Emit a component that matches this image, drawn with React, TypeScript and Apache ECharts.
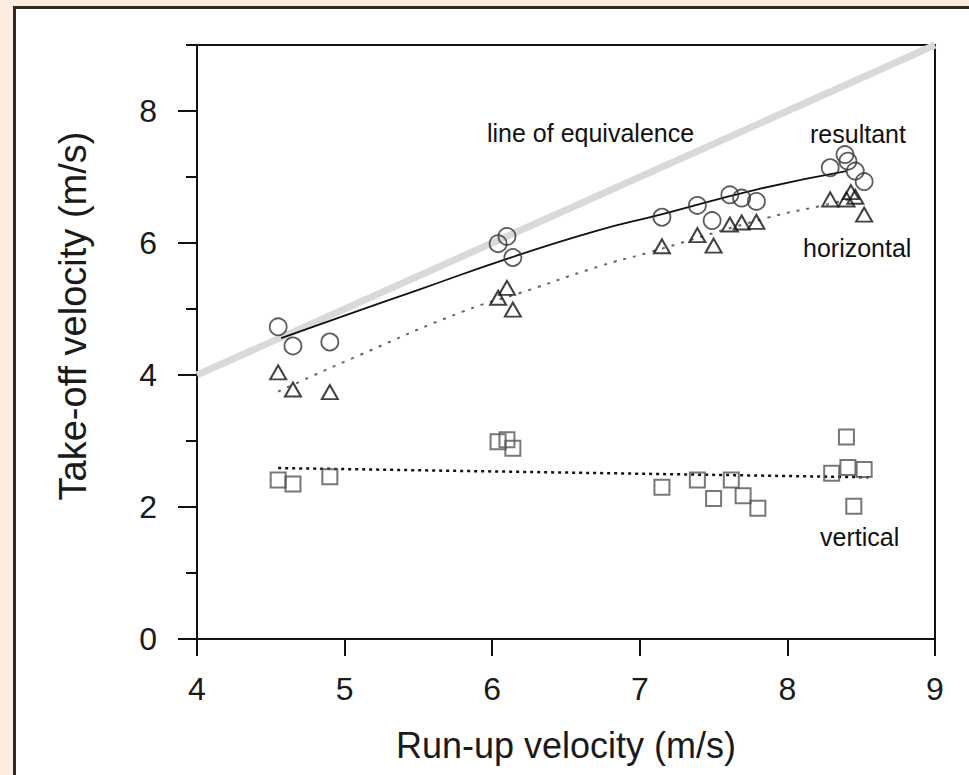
import React, { useEffect, useRef } from "react";
import * as echarts from "echarts";

const xTicks = [4, 5, 6, 7, 8, 9];
const yMajorTicks = [0, 2, 4, 6, 8];
const yMinorTicks = [1, 3, 5, 7, 9];

const equivalence = [[4, 4], [9, 9]];

const resultant = [
  [4.55, 4.73], [4.65, 4.44], [4.9, 4.5], [6.04, 5.99], [6.1, 6.1], [6.14, 5.78],
  [7.15, 6.39], [7.39, 6.57], [7.49, 6.34], [7.61, 6.73], [7.69, 6.68], [7.79, 6.63],
  [8.29, 7.14], [8.39, 7.34], [8.41, 7.24], [8.46, 7.09], [8.52, 6.93],
];
const horizontal = [
  [4.55, 4.04], [4.65, 3.78], [4.9, 3.74], [6.04, 5.17], [6.1, 5.32], [6.14, 4.99],
  [7.15, 5.95], [7.39, 6.12], [7.5, 5.96], [7.61, 6.28], [7.69, 6.31], [7.79, 6.32],
  [8.29, 6.66], [8.4, 6.66], [8.43, 6.77], [8.46, 6.7], [8.52, 6.43],
];
const vertical = [
  [4.55, 2.41], [4.65, 2.35], [4.9, 2.46], [6.04, 2.99], [6.1, 3.02], [6.14, 2.89],
  [7.15, 2.3], [7.39, 2.41], [7.5, 2.13], [7.62, 2.41], [7.7, 2.17], [7.8, 1.98],
  [8.3, 2.51], [8.4, 3.06], [8.41, 2.6], [8.45, 2.01], [8.52, 2.57],
];

const resultantFit = [
  [4.57, 4.56], [5.0, 4.9], [5.5, 5.29], [6.1, 5.76], [6.7, 6.18], [7.14, 6.43],
  [7.79, 6.81], [8.4, 7.09],
];
const horizontalFit = [
  [4.55, 3.75], [5.1, 4.3], [5.8, 4.96], [6.2, 5.25], [6.73, 5.65], [7.05, 5.85],
  [7.86, 6.38], [8.22, 6.56], [8.45, 6.68],
];
const verticalFit = [[4.55, 2.59], [8.55, 2.45]];

const FONT = "'Liberation Sans', Arial, sans-serif";

export default function App() {
  const ref = useRef<HTMLDivElement>(null);

  useEffect(() => {
    if (!ref.current) return;
    const chart = echarts.init(ref.current, null, { renderer: "svg" });
    const axisCommon = {
      type: "value",
      min: 0,
      max: 9,
      interval: 1,
      position: "left",
      splitLine: { show: false },
      axisLine: { show: true, lineStyle: { color: "#111", width: 2 } },
    };
    chart.setOption({
      animation: false,
      backgroundColor: "transparent",
      textStyle: { fontFamily: FONT },
      grid: {
        left: 197,
        top: 45,
        width: 738,
        height: 594,
        show: true,
        borderColor: "#111",
        borderWidth: 2,
        backgroundColor: "transparent",
      },
      xAxis: {
        type: "value",
        min: 4,
        max: 9,
        interval: 1,
        splitLine: { show: false },
        axisLine: { show: true, onZero: false, lineStyle: { color: "#111", width: 2 } },
        axisTick: { show: true, length: 17, lineStyle: { color: "#111", width: 2 } },
        axisLabel: {
          show: true,
          margin: 34,
          fontSize: 32,
          color: "#1a1a1a",
          fontFamily: FONT,
          customValues: xTicks,
        },
      },
      yAxis: [
        {
          ...axisCommon,
          axisTick: {
            show: true,
            length: 11,
            lineStyle: { color: "#111", width: 2 },
            customValues: yMinorTicks,
          },
          axisLabel: { show: false },
        },
        {
          ...axisCommon,
          axisTick: {
            show: true,
            length: 19,
            lineStyle: { color: "#111", width: 2 },
            customValues: yMajorTicks,
          },
          axisLabel: {
            show: true,
            margin: 40,
            fontSize: 32,
            color: "#1a1a1a",
            fontFamily: FONT,
            customValues: yMajorTicks,
          },
        },
      ],
      series: [
        {
          type: "line",
          data: equivalence,
          symbol: "none",
          lineStyle: { color: "#d9d9d9", width: 7 },
          z: 1,
        },
        {
          type: "line",
          data: resultantFit,
          smooth: true,
          symbol: "none",
          lineStyle: { color: "#111", width: 1.8 },
          z: 2,
        },
        {
          type: "line",
          data: horizontalFit,
          smooth: true,
          symbol: "none",
          lineStyle: { color: "#666", width: 2, type: [3, 7] },
          z: 2,
        },
        {
          type: "line",
          data: verticalFit,
          symbol: "none",
          lineStyle: { color: "#111", width: 2.5, type: [3, 4] },
          z: 2,
        },
        {
          type: "scatter",
          data: resultant,
          symbol: "circle",
          symbolSize: 17,
          itemStyle: { color: "rgba(0,0,0,0)", borderColor: "#333", borderWidth: 1.8 },
          z: 3,
        },
        {
          type: "scatter",
          data: horizontal,
          symbol: "triangle",
          symbolSize: [16, 14],
          itemStyle: { color: "rgba(0,0,0,0)", borderColor: "#111", borderWidth: 2 },
          z: 3,
        },
        {
          type: "scatter",
          data: vertical,
          symbol: "rect",
          symbolSize: 15,
          itemStyle: { color: "rgba(0,0,0,0)", borderColor: "#555", borderWidth: 2 },
          z: 3,
        },
      ],
      graphic: [
        {
          type: "text",
          x: 566,
          y: 745,
          style: {
            text: "Run-up velocity (m/s)",
            fontSize: 36,
            fontFamily: FONT,
            fill: "#1a1a1a",
            textAlign: "center",
            textVerticalAlign: "middle",
          },
        },
        {
          type: "text",
          x: 73,
          y: 316,
          rotation: Math.PI / 2,
          style: {
            text: "Take-off velocity (m/s)",
            fontSize: 38,
            fontFamily: FONT,
            fill: "#1a1a1a",
            textAlign: "center",
            textVerticalAlign: "middle",
          },
        },
        {
          type: "text",
          x: 487,
          y: 133,
          style: { text: "line of equivalence", fontSize: 25, fontFamily: FONT, fill: "#111", textAlign: "left", textVerticalAlign: "middle" },
        },
        {
          type: "text",
          x: 810,
          y: 134,
          style: { text: "resultant", fontSize: 25, fontFamily: FONT, fill: "#111", textAlign: "left", textVerticalAlign: "middle" },
        },
        {
          type: "text",
          x: 803,
          y: 248,
          style: { text: "horizontal", fontSize: 25, fontFamily: FONT, fill: "#111", textAlign: "left", textVerticalAlign: "middle" },
        },
        {
          type: "text",
          x: 820,
          y: 537,
          style: { text: "vertical", fontSize: 25, fontFamily: FONT, fill: "#111", textAlign: "left", textVerticalAlign: "middle" },
        },
      ],
    });
    return () => chart.dispose();
  }, []);

  return (
    <div style={{ position: "absolute", left: 0, top: 0, width: 969, height: 775, background: "#fdece0", overflow: "hidden" }}>
      <div
        style={{
          position: "absolute",
          left: 13,
          top: 6,
          width: 1000,
          height: 800,
          background: "#ffffff",
          borderLeft: "3px solid #2b2b2b",
          borderTop: "3px solid #2b2b2b",
        }}
      />
      <div ref={ref} style={{ position: "absolute", left: 0, top: 0, width: 969, height: 775 }} />
    </div>
  );
}
